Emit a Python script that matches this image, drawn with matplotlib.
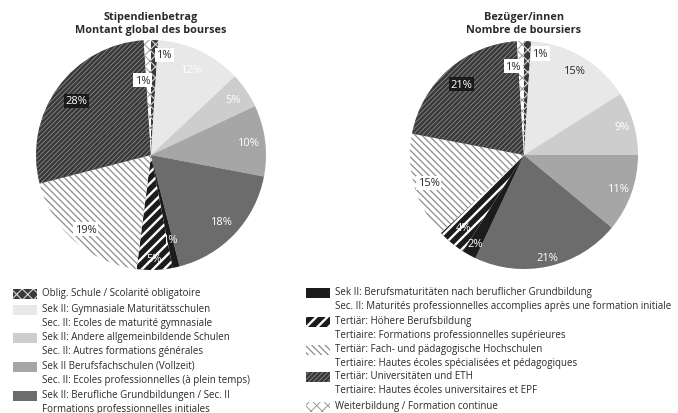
import matplotlib
matplotlib.use('Agg')
import matplotlib.pyplot as plt
from matplotlib.patches import Rectangle
import numpy as np

# categories in clockwise order from 12 o'clock
categories = [
    'Oblig. Schule', 'Gymnasiale Maturitätsschulen', 'Andere allgemeinbildende Schulen',
    'Berufsfachschulen', 'Berufliche Grundbildungen', 'Berufsmaturitäten',
    'Höhere Berufsbildung', 'Fach- und pädagogische Hochschulen',
    'Universitäten und ETH', 'Weiterbildung',
]
amount_pct = [1, 12, 5, 10, 18, 1, 5, 19, 28, 1]
recipients_pct = [1, 15, 9, 11, 21, 2, 4, 15, 21, 1]

titles = ['Stipendienbetrag\nMontant global des bourses',
          'Bezüger/innen\nNombre de boursiers']

legend_left = [
    'Oblig. Schule / Scolarité obligatoire',
    'Sek II: Gymnasiale Maturitätsschulen\nSec. II: Ecoles de maturité gymnasiale',
    'Sek II: Andere allgemeinbildende Schulen\nSec. II: Autres formations générales',
    'Sek II Berufsfachschulen (Vollzeit)\nSec. II: Ecoles professionnelles (à plein temps)',
    'Sek II: Berufliche Grundbildungen / Sec. II\nFormations professionnelles initiales',
]
legend_right = [
    'Sek II: Berufsmaturitäten nach beruflicher Grundbildung\nSec. II: Maturités professionnelles accomplies après une formation initiale',
    'Tertiär: Höhere Berufsbildung\nTertiaire: Formations professionnelles supérieures',
    'Tertiär: Fach- und pädagogische Hochschulen\nTertiaire: Hautes écoles spécialisées et pédagogiques',
    'Tertiär: Universitäten und ETH\nTertiaire: Hautes écoles universitaires et EPF',
    'Weiterbildung / Formation continue',
]

# fill styles: face, hatch, hatch colour, hatch width
faces = ['#3a3a3a', '#e8e8e8', '#cdcdcd', '#a6a6a6', '#6c6c6c', '#1c1c1c',
         '#1c1c1c', 'white', '#383838', 'white']
hatches = ['xxx', None, None, None, None, None, '///', '\\\\\\\\\\', '///////', 'xxx']
hatch_cols = ['#d8d8d8', '#e8e8e8', '#cdcdcd', '#a6a6a6', '#6c6c6c', '#1c1c1c',
              'white', '#8c8c8c', '#8a8a8a', '#9a9a9a']
hatch_lw = [0.8, 1, 1, 1, 1, 1, 1.7, 0.9, 0.6, 0.7]

# label styles
left_styles = ['box', 'white', 'white', 'white', 'white', 'white', 'white', 'box', 'dark', 'box']
right_styles = ['box', 'plain', 'white', 'white', 'white', 'white', 'white', 'box', 'dark', 'box']
left_r = [0.87, 0.82, 0.86, 0.85, 0.84, 0.75, 0.9, 0.86, 0.8, 0.65]
right_r = [0.89, 0.86, 0.9, 0.88, 0.92, 0.89, 0.83, 0.87, 0.83, 0.78]
left_dx = [10, 0, 0, 0, 0, 0, 0, 0, 0, -6]
right_dx = [13, 0, 0, 0, 0, 0, 0, 0, 0, -8]

W, H = 678, 414
plt.rcParams['font.family'] = ['Open Sans', 'DejaVu Sans']
fig = plt.figure(figsize=(W / 100, H / 100), dpi=100)
TXT = '#2a2a2a'


def px(x, y):
    return x / W, 1 - y / H


def draw_pie(cx, cy, R, values, styles, rr, dxs, title):
    ax = fig.add_axes([(cx - R) / W, 1 - (cy + R) / H, 2 * R / W, 2 * R / H])
    wedges, _ = ax.pie(values, startangle=90, counterclock=False, radius=1,
                       wedgeprops=dict(linewidth=0))
    for i, w in enumerate(wedges):
        w.set_facecolor(faces[i])
        w.set_edgecolor(hatch_cols[i])
        w.set_linewidth(0)
        if hatches[i]:
            w.set_hatch(hatches[i])
            if hasattr(w, 'set_hatch_linewidth'):
                w.set_hatch_linewidth(hatch_lw[i])
    ax.set_xlim(-1, 1)
    ax.set_ylim(-1, 1)
    ax.axis('off')
    for i, w in enumerate(wedges):
        mid = np.deg2rad((w.theta1 + w.theta2) / 2)
        x, y = rr[i] * np.cos(mid), rr[i] * np.sin(mid)
        st = styles[i]
        kw = dict(fontsize=8, ha='center', va='center')
        if st == 'box':
            kw.update(color=TXT, bbox=dict(boxstyle='square,pad=0.15', fc='white', ec='none'))
        elif st == 'dark':
            kw.update(color='white', bbox=dict(boxstyle='square,pad=0.15', fc='#1a1a1a', ec='none'))
        elif st == 'plain':
            kw.update(color=TXT)
        else:
            kw.update(color='white')
        ax.annotate(f'{values[i]}%', (x, y), xytext=(dxs[i] * 0.72, 0),
                    textcoords='offset points', **kw)
    tx, ty = px(cx, 24)
    fig.text(tx, ty, title, ha='center', va='center', fontsize=7.8,
             fontweight='bold', color=TXT, linespacing=1.2)


draw_pie(151, 156, 115, amount_pct, left_styles, left_r, left_dx, titles[0])
draw_pie(524, 156, 114, recipients_pct, right_styles, right_r, right_dx, titles[1])


def legend_entry(x, y, idx, text):
    x0, y0 = px(x, y + 12)
    r = Rectangle((x0, y0), 24 / W, 10 / H, transform=fig.transFigure,
                  facecolor=faces[idx], edgecolor=hatch_cols[idx], linewidth=0,
                  hatch=hatches[idx])
    if hatches[idx] and hasattr(r, 'set_hatch_linewidth'):
        r.set_hatch_linewidth(hatch_lw[idx])
    fig.add_artist(r)
    tx, ty = px(x + 29, y)
    fig.text(tx, ty, text, ha='left', va='top', fontsize=7.0, color=TXT,
             linespacing=1.32)


left_y = [288, 304, 332, 361, 390]
right_y = [287, 316, 344, 371, 401]
for k, t in enumerate(legend_left):
    legend_entry(13, left_y[k], k, t)
for k, t in enumerate(legend_right):
    legend_entry(306, right_y[k], k + 5, t)

fig.savefig('out.png', dpi=100)
